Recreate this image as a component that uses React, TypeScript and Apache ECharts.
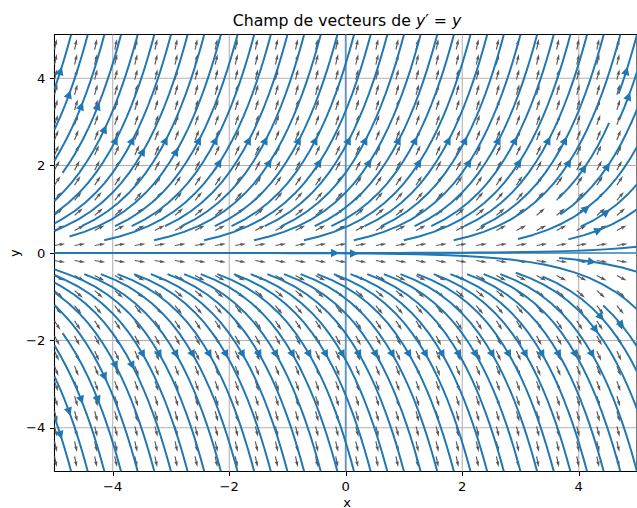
import React, { useEffect, useRef } from 'react';
import * as echarts from 'echarts';

// ---------- data ----------
const N_GRID = 30;
const X_RANGE = [-5, 5];
const Y_RANGE = [-5, 5];
const GRID_X: number[] = Array.from({ length: N_GRID }, (_, i) => X_RANGE[0] + ((X_RANGE[1] - X_RANGE[0]) * i) / (N_GRID - 1));
const GRID_Y: number[] = Array.from({ length: N_GRID }, (_, j) => Y_RANGE[0] + ((Y_RANGE[1] - Y_RANGE[0]) * j) / (N_GRID - 1));
const X_TICKS = [-4, -2, 0, 2, 4];
const Y_TICKS = [-4, -2, 0, 2, 4];
const REF_LINES_X = [0];
const REF_LINES_Y = [0];
const STREAM_DENSITY = 1.2;

// the differential equation y' = y  ->  field (1, y)
const field = (x: number, y: number): [number, number] => [1, y];
const unitField = (x: number, y: number): [number, number] => {
  const n = Math.hypot(1, y);
  return [1 / n, y / n];
};

// ---------- streamplot (matplotlib algorithm) ----------
type Stream = { pts: [number, number][]; tail: [number, number]; head: [number, number] };

function roundHalfEven(v: number) {
  const f = Math.floor(v);
  const d = v - f;
  if (d > 0.5) return f + 1;
  if (d < 0.5) return f;
  return f % 2 === 0 ? f : f + 1;
}

function streamplot(xs: number[], ys: number[], density: number): Stream[] {
  const nx = xs.length, ny = ys.length;
  const dxd = xs[1] - xs[0], dyd = ys[1] - ys[0];
  const mnx = Math.floor(30 * density + 1e-9), mny = Math.floor(30 * density + 1e-9);
  const mask = new Uint8Array(mnx * mny);
  const xg2m = (mnx - 1) / (nx - 1), yg2m = (mny - 1) / (ny - 1);
  const ug: number[][] = [], vg: number[][] = [], sp: number[][] = [];
  for (let j = 0; j < ny; j++) {
    ug.push([]); vg.push([]); sp.push([]);
    for (let i = 0; i < nx; i++) {
      const [u0, v0] = field(xs[i], ys[j]);
      const u = u0 / dxd, v = v0 / dyd;
      ug[j].push(u); vg[j].push(v);
      sp[j].push(Math.hypot(u / (nx - 1), v / (ny - 1)));
    }
  }
  const interp = (a: number[][], xi: number, yi: number) => {
    const x = Math.trunc(xi), y = Math.trunc(yi);
    const xn = x === nx - 1 ? x : x + 1;
    const yn = y === ny - 1 ? y : y + 1;
    const xt = xi - x, yt = yi - y;
    const a0 = a[y][x] * (1 - xt) + a[y][xn] * xt;
    const a1 = a[yn][x] * (1 - xt) + a[yn][xn] * xt;
    return a0 * (1 - yt) + a1 * yt;
  };
  const OOB = { k: 'oob' }, TERM = { k: 'term' }, INV = { k: 'inv' };
  const within = (xi: number, yi: number) => xi >= 0 && xi <= nx - 1 && yi >= 0 && yi <= ny - 1;
  let cur: [number, number] | null = null;
  let traj: number[] = [];
  const maskUpdate = (xm: number, ym: number) => {
    if (!cur || cur[0] !== xm || cur[1] !== ym) {
      if (mask[ym * mnx + xm] === 0) {
        traj.push(ym * mnx + xm);
        mask[ym * mnx + xm] = 1;
        cur = [xm, ym];
      } else throw INV;
    }
  };
  const g2m = (xg: number, yg: number): [number, number] => [roundHalfEven(xg * xg2m), roundHalfEven(yg * yg2m)];
  const fwd = (xi: number, yi: number): [number, number] => {
    if (!within(xi, yi)) throw OOB;
    const dsdt = interp(sp, xi, yi);
    if (dsdt === 0) throw TERM;
    const dtds = 1 / dsdt;
    return [interp(ug, xi, yi) * dtds, interp(vg, xi, yi) * dtds];
  };
  const bwd = (xi: number, yi: number): [number, number] => {
    const [a, b] = fwd(xi, yi);
    return [-a, -b];
  };
  const maxlength = 4.0, minlength = 0.1;
  const euler = (t: [number, number][], f: typeof fwd) => {
    const [xi, yi] = t[t.length - 1];
    const [cx, cy] = f(xi, yi);
    const dsx = cx === 0 ? Infinity : cx < 0 ? xi / -cx : (nx - 1 - xi) / cx;
    const dsy = cy === 0 ? Infinity : cy < 0 ? yi / -cy : (ny - 1 - yi) / cy;
    const ds = Math.min(dsx, dsy);
    t.push([xi + cx * ds, yi + cy * ds]);
    return ds;
  };
  const rk12 = (x0: number, y0: number, f: typeof fwd): [number, [number, number][]] => {
    const maxerror = 0.003;
    const maxds = Math.min(1 / mnx, 1 / mny, 0.1);
    let ds = maxds, stotal = 0, xi = x0, yi = y0;
    const out: [number, number][] = [];
    for (let guard = 0; guard < 100000; guard++) {
      let k1x = 0, k1y = 0, k2x = 0, k2y = 0;
      try {
        if (within(xi, yi)) out.push([xi, yi]);
        else throw OOB;
        [k1x, k1y] = f(xi, yi);
        [k2x, k2y] = f(xi + ds * k1x, yi + ds * k1y);
      } catch (e) {
        if (e === OOB) {
          if (out.length) stotal += euler(out, f);
          break;
        }
        if (e === TERM) break;
        throw e;
      }
      const dx1 = ds * k1x, dy1 = ds * k1y;
      const dx2 = ds * 0.5 * (k1x + k2x), dy2 = ds * 0.5 * (k1y + k2y);
      const error = Math.hypot((dx2 - dx1) / (nx - 1), (dy2 - dy1) / (ny - 1));
      if (error < maxerror) {
        xi += dx2; yi += dy2;
        try {
          if (!within(xi, yi)) throw INV;
          const [xm, ym] = g2m(xi, yi);
          maskUpdate(xm, ym);
        } catch (e) {
          if (e === INV) break;
          throw e;
        }
        if (stotal + ds > maxlength) break;
        stotal += ds;
      }
      ds = error === 0 ? maxds : Math.min(maxds, 0.85 * ds * Math.sqrt(maxerror / error));
    }
    return [stotal, out];
  };
  const integrate = (x0: number, y0: number): [number, number][] | null => {
    try {
      traj = [];
      const [xm, ym] = g2m(x0, y0);
      maskUpdate(xm, ym);
    } catch (e) {
      return null;
    }
    let stotal = 0;
    let [s, t] = rk12(x0, y0, bwd);
    stotal += s;
    let xy = t.slice().reverse();
    cur = g2m(x0, y0);
    [s, t] = rk12(x0, y0, fwd);
    stotal += s;
    xy = xy.concat(t.slice(1));
    if (stotal > minlength) return xy;
    for (const c of traj) mask[c] = 0;
    return null;
  };
  const seeds: [number, number][] = [];
  {
    let xfirst = 0, yfirst = 1, xlast = mnx - 1, ylast = mny - 1, x = 0, y = 0;
    let dir = 'right';
    for (let i = 0; i < mnx * mny; i++) {
      seeds.push([x, y]);
      if (dir === 'right') { x += 1; if (x >= xlast) { xlast -= 1; dir = 'up'; } }
      else if (dir === 'up') { y += 1; if (y >= ylast) { ylast -= 1; dir = 'left'; } }
      else if (dir === 'left') { x -= 1; if (x <= xfirst) { xfirst += 1; dir = 'down'; } }
      else { y -= 1; if (y <= yfirst) { yfirst += 1; dir = 'right'; } }
    }
  }
  const result: Stream[] = [];
  for (const [xm, ym] of seeds) {
    if (mask[ym * mnx + xm] !== 0) continue;
    const t = integrate(xm / xg2m, ym / yg2m);
    if (!t) continue;
    const pts = t.map(([gx, gy]) => [gx * dxd + xs[0], gy * dyd + ys[0]] as [number, number]);
    const cs: number[] = [];
    let acc = 0;
    for (let k = 1; k < pts.length; k++) {
      acc += Math.hypot(pts[k][0] - pts[k - 1][0], pts[k][1] - pts[k - 1][1]);
      cs.push(acc);
    }
    const half = acc / 2;
    let n = 0;
    while (n < cs.length && cs[n] < half) n++;
    n = Math.min(n, pts.length - 2);
    const tail = pts[n];
    const head: [number, number] = [(pts[n][0] + pts[n + 1][0]) / 2, (pts[n][1] + pts[n + 1][1]) / 2];
    result.push({ pts, tail, head });
  }
  return result;
}

const STREAMS = streamplot(GRID_X, GRID_Y, STREAM_DENSITY);
const QUIVER_POINTS: [number, number][] = [];
for (const y of GRID_Y) for (const x of GRID_X) QUIVER_POINTS.push([x, y]);

// ---------- styling ----------
const PT = 1.31;
const C0 = '#1f77b4';
const FONT = 'DejaVu Sans';
const fmt = (v: number) => (v < 0 ? '\u2212' + Math.abs(v) : String(v));

export default function App() {
  const ref = useRef<HTMLDivElement>(null);
  useEffect(() => {
    if (!ref.current) return;
    const chart = echarts.init(ref.current, undefined, { renderer: 'svg' });
    const qw = 1.17;
    const qL = 10.83;
    const arrowShape: [number, number][] = [
      [0, -qw / 2], [qL - 4.5 * qw, -qw / 2], [qL - 5 * qw, -1.5 * qw], [qL, 0],
      [qL - 5 * qw, 1.5 * qw], [qL - 4.5 * qw, qw / 2], [0, qw / 2],
    ];
    const option: any = {
      animation: false,
      grid: { left: 54.5, top: 34.5, width: 585, height: 437, show: true, borderColor: '#000', borderWidth: 0.8 * PT, backgroundColor: 'transparent' },
      xAxis: {
        type: 'value', min: X_RANGE[0], max: X_RANGE[1],
        axisLine: { show: true, onZero: false, lineStyle: { color: '#000', width: 0.8 * PT } },
        axisTick: { show: true, customValues: X_TICKS, length: 3.5 * PT, lineStyle: { color: '#000', width: 0.8 * PT } },
        axisLabel: { customValues: X_TICKS, formatter: fmt, color: '#000', fontSize: 10 * PT, fontFamily: FONT, margin: 8.5 },
        splitLine: { show: false },
      },
      yAxis: {
        type: 'value', min: Y_RANGE[0], max: Y_RANGE[1],
        axisLine: { show: true, onZero: false, lineStyle: { color: '#000', width: 0.8 * PT } },
        axisTick: { show: true, customValues: Y_TICKS, length: 3.5 * PT, lineStyle: { color: '#000', width: 0.8 * PT } },
        axisLabel: { customValues: Y_TICKS, formatter: fmt, color: '#000', fontSize: 10 * PT, fontFamily: FONT, margin: 9.2 },
        splitLine: { show: false },
      },
      series: [
        {
          type: 'custom', coordinateSystem: 'cartesian2d', silent: true, z: 1,
          data: X_TICKS.map((v, i) => [v, Y_TICKS[i]]),
          encode: { x: 0, y: 1 },
          renderItem: (params: any, api: any) => {
            const vx = api.value(0), vy = api.value(1);
            const a = api.coord([vx, Y_RANGE[0]]), b = api.coord([vx, Y_RANGE[1]]);
            const c = api.coord([X_RANGE[0], vy]), d = api.coord([X_RANGE[1], vy]);
            const st = { stroke: '#b0b0b0', lineWidth: 0.8 * PT, fill: null };
            return {
              type: 'group', children: [
                { type: 'line', shape: { x1: a[0], y1: a[1], x2: b[0], y2: b[1] }, style: st },
                { type: 'line', shape: { x1: c[0], y1: c[1], x2: d[0], y2: d[1] }, style: st },
              ],
            };
          },
        },
        {
          type: 'custom', coordinateSystem: 'cartesian2d', silent: true, clip: true, z: 2,
          data: QUIVER_POINTS,
          encode: { x: 0, y: 1 },
          renderItem: (params: any, api: any) => {
            const x = api.value(0), y = api.value(1);
            const p = api.coord([x, y]);
            const [u, v] = unitField(x, y);
            const ang = Math.atan2(v, u);
            const dx = Math.cos(ang), dy = -Math.sin(ang);
            const px = -dy, py = dx;
            const pts = arrowShape.map(([a, b]) => [p[0] + a * dx + b * px, p[1] + a * dy + b * py]);
            return { type: 'polygon', shape: { points: pts }, style: { fill: '#5a5a5a', stroke: null } };
          },
        },
        {
          type: 'custom', coordinateSystem: 'cartesian2d', silent: true, clip: true, z: 3,
          data: [[REF_LINES_X[0], REF_LINES_Y[0]]],
          encode: { x: 0, y: 1 },
          renderItem: (params: any, api: any) => {
            const vx = api.value(0), vy = api.value(1);
            const a = api.coord([vx, Y_RANGE[0]]), b = api.coord([vx, Y_RANGE[1]]);
            const c = api.coord([X_RANGE[0], vy]), d = api.coord([X_RANGE[1], vy]);
            const st = { stroke: C0, opacity: 0.6, lineWidth: 1.5 * PT, fill: null };
            return {
              type: 'group', children: [
                { type: 'line', shape: { x1: a[0], y1: a[1], x2: b[0], y2: b[1] }, style: st },
                { type: 'line', shape: { x1: c[0], y1: c[1], x2: d[0], y2: d[1] }, style: st },
              ],
            };
          },
        },
        {
          type: 'custom', coordinateSystem: 'cartesian2d', silent: true, clip: true, z: 4,
          data: STREAMS.map((s, i) => [s.tail[0], s.tail[1], i]),
          encode: { x: 0, y: 1 },
          renderItem: (params: any, api: any) => {
            const s = STREAMS[params.dataIndex];
            const pts = s.pts.map((q) => api.coord(q));
            return { type: 'polyline', shape: { points: pts }, style: { stroke: C0, lineWidth: 1.5 * PT, fill: null, lineJoin: 'round' } };
          },
        },
        {
          type: 'custom', coordinateSystem: 'cartesian2d', silent: true, clip: true, z: 5,
          data: STREAMS.map((s, i) => [s.head[0], s.head[1], i]),
          encode: { x: 0, y: 1 },
          renderItem: (params: any, api: any) => {
            const s = STREAMS[params.dataIndex];
            const T = api.coord(s.tail), H = api.coord(s.head);
            let dx = H[0] - T[0], dy = H[1] - T[1];
            const len = Math.hypot(dx, dy) || 1;
            dx /= len; dy /= len;
            const px = -dy, py = dx;
            const lw = 1.5 * PT;
            const hl = 4 * PT, hw = 2 * PT;
            const pad = (0.5 * lw) / Math.sin(Math.atan2(hw, hl));
            const tipD = 2 * PT + pad;
            const tip = [H[0] - tipD * dx, H[1] - tipD * dy];
            const pts = [
              [tip[0] - hl * dx + hw * px, tip[1] - hl * dy + hw * py],
              tip,
              [tip[0] - hl * dx - hw * px, tip[1] - hl * dy - hw * py],
            ];
            return { type: 'polygon', shape: { points: pts }, style: { fill: C0, stroke: C0, lineWidth: lw, lineJoin: 'miter' } };
          },
        },
      ],
      graphic: [
        {
          type: 'text', x: 347, y: 20, z: 100,
          style: {
            text: '{n|Champ de vecteurs de }{i|y}{n|\u2032 = }{i|y}',
            align: 'center', verticalAlign: 'middle',
            fontFamily: FONT, fontSize: 12 * PT, fill: '#000',
            rich: {
              n: { fontFamily: FONT, fontSize: 12 * PT, color: '#000' },
              i: { fontFamily: FONT, fontSize: 12 * PT, fontStyle: 'italic', color: '#000' },
            },
          },
        },
        {
          type: 'text', x: 347, y: 502, z: 100,
          style: { text: 'x', align: 'center', verticalAlign: 'middle', fontFamily: FONT, fontSize: 10 * PT, fill: '#000' },
        },
        {
          type: 'text', x: 14, y: 253, rotation: Math.PI / 2, z: 100,
          style: { text: 'y', align: 'center', verticalAlign: 'middle', fontFamily: FONT, fontSize: 10 * PT, fill: '#000' },
        },
      ],
    };
    chart.setOption(option);
    return () => chart.dispose();
  }, []);
  return <div ref={ref} style={{ position: 'fixed', left: 0, top: 0, width: 637, height: 508, background: '#fff' }} />;
}
